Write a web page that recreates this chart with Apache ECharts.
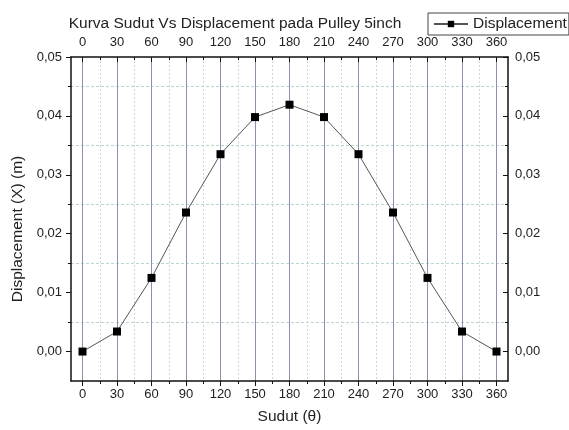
<!DOCTYPE html>
<html>
<head>
<meta charset="utf-8">
<script src="https://cdn.jsdelivr.net/npm/echarts@6/dist/echarts.min.js"></script>
<style>
  html, body { margin: 0; padding: 0; background: #fff; }
  #chart { width: 569px; height: 430px; }
</style>
</head>
<body>
<div id="chart"></div>
<script>
// data
var sudut = [0, 30, 60, 90, 120, 150, 180, 210, 240, 270, 300, 330, 360];
var displacement = [0, 0.0034, 0.0125, 0.0236, 0.0335, 0.0398, 0.0419, 0.0398, 0.0335, 0.0236, 0.0125, 0.0034, 0];
var xMajor = [0, 30, 60, 90, 120, 150, 180, 210, 240, 270, 300, 330, 360];
var xMinor = [15, 45, 75, 105, 135, 165, 195, 225, 255, 285, 315, 345];
var yMajor = [0, 0.01, 0.02, 0.03, 0.04, 0.05];
var yMinor = [0.005, 0.015, 0.025, 0.035, 0.045];

var chart = echarts.init(document.getElementById('chart'));
var font = 'Liberation Sans, Arial, sans-serif';

function fmtY(v) {
    return v.toFixed(2).replace('.', ',');
}

var baseX = { type: 'value', min: -10, max: 370, gridIndex: 0 };
var baseY = { type: 'value', min: -0.005, max: 0.05, gridIndex: 0 };
var black = { onZero: false, show: true, lineStyle: { color: '#111', width: 1.5 } };
var noLine = { onZero: false, show: false };

var option = {
    animation: false,
    title: {
        text: 'Kurva Sudut Vs Displacement pada Pulley 5inch',
        left: 230,
        top: 11,
        textAlign: 'center',
        textStyle: { fontFamily: font, fontSize: 15.5, fontWeight: 'normal', color: '#222' }
    },
    legend: {
        data: ['Displacement'],
        left: 428,
        top: 13,
        padding: [3, 2, 3, 5],
        borderColor: '#444',
        borderWidth: 1,
        itemWidth: 34,
        itemHeight: 8,
        textStyle: { fontFamily: font, fontSize: 15.5, color: '#222' }
    },
    grid: { left: 71, right: 61, top: 57, bottom: 47 },
    xAxis: [
        Object.assign({}, baseX, {
            position: 'bottom',
            name: 'Sudut (\u03b8)',
            nameLocation: 'middle',
            nameGap: 28,
            nameTextStyle: { fontFamily: font, fontSize: 15.5, color: '#222' },
            axisLine: black,
            axisTick: { show: true, inside: false, length: 5, customValues: xMajor, lineStyle: { color: '#111' } },
            axisLabel: { customValues: xMajor, margin: 7, fontFamily: font, fontSize: 13, color: '#222' },
            splitLine: { show: true, lineStyle: { color: '#8e8eae', width: 1 } }
        }),
        Object.assign({}, baseX, {
            position: 'top',
            axisLine: black,
            axisTick: { show: true, inside: true, length: 5, customValues: xMajor, lineStyle: { color: '#111' } },
            axisLabel: { customValues: xMajor, margin: 8, fontFamily: font, fontSize: 13, color: '#222' },
            splitLine: { show: false }
        }),
        Object.assign({}, baseX, {
            position: 'bottom',
            axisLine: noLine,
            axisTick: { show: true, inside: false, length: 3, customValues: xMinor, lineStyle: { color: '#111' } },
            axisLabel: { show: false },
            splitLine: { show: true, lineStyle: { color: '#c4e0c4', type: [2, 2], width: 1 } }
        }),
        Object.assign({}, baseX, {
            position: 'top',
            axisLine: noLine,
            axisTick: { show: true, inside: true, length: 3, customValues: xMinor, lineStyle: { color: '#111' } },
            axisLabel: { show: false },
            splitLine: { show: false }
        })
    ],
    yAxis: [
        Object.assign({}, baseY, {
            position: 'left',
            name: 'Displacement (X) (m)',
            nameLocation: 'middle',
            nameGap: 44,
            nameTextStyle: { fontFamily: font, fontSize: 15.5, color: '#222', padding: [0, 20, 0, 0] },
            axisLine: black,
            axisTick: { show: true, inside: false, length: 5, customValues: yMajor, lineStyle: { color: '#111' } },
            axisLabel: { customValues: yMajor, margin: 9, formatter: fmtY, fontFamily: font, fontSize: 13, color: '#222' },
            splitLine: { show: false }
        }),
        Object.assign({}, baseY, {
            position: 'right',
            axisLine: black,
            axisTick: { show: true, inside: true, length: 5, customValues: yMajor, lineStyle: { color: '#111' } },
            axisLabel: { customValues: yMajor, margin: 7, formatter: fmtY, fontFamily: font, fontSize: 13, color: '#222' },
            splitLine: { show: false }
        }),
        Object.assign({}, baseY, {
            position: 'left',
            axisLine: noLine,
            axisTick: { show: true, inside: false, length: 3, customValues: yMinor, lineStyle: { color: '#111' } },
            axisLabel: { show: false },
            splitLine: { show: true, lineStyle: { color: '#bcd6c8', type: [3, 2], width: 1 } }
        }),
        Object.assign({}, baseY, {
            position: 'right',
            axisLine: noLine,
            axisTick: { show: true, inside: true, length: 3, customValues: yMinor, lineStyle: { color: '#111' } },
            axisLabel: { show: false },
            splitLine: { show: false }
        })
    ],
    series: [{
        name: 'Displacement',
        type: 'line',
        xAxisIndex: 0,
        yAxisIndex: 0,
        data: sudut.map(function (s, i) { return [s, displacement[i]]; }),
        symbol: 'rect',
        symbolSize: 8,
        itemStyle: { color: '#000' },
        lineStyle: { color: '#555', width: 1 },
        z: 5
    }]
};

chart.setOption(option);
</script>
</body>
</html>
